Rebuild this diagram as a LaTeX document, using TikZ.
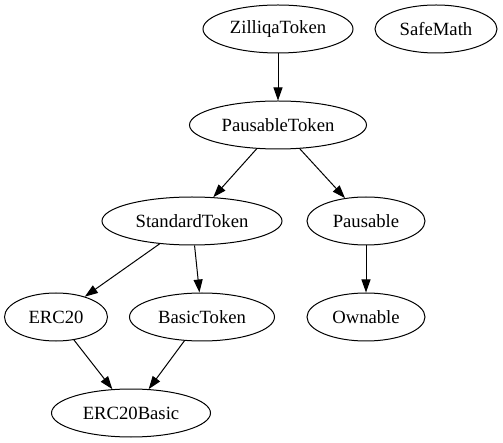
\documentclass[tikz,border=0pt]{standalone}
\usepackage{fontspec}
\setmainfont{Liberation Serif}
\usetikzlibrary{shapes.geometric,arrows.meta}

\begin{document}
\begin{tikzpicture}[x=1pt,y=1pt,line width=1pt,>={Triangle[length=13pt,width=9pt]},cls/.style={draw,ellipse,inner sep=0pt,minimum height=48pt,font=\fontsize{18.67}{22}\selectfont}]
\useasboundingbox (0,0) rectangle (503,-443);
\foreach \n/\x/\y/\w/\lbl in {zil/278/29/150/ZilliqaToken,safe/436/29/122/SafeMath,ptok/278/125/177/PausableToken,std/192/221/180/StandardToken,paus/366/221/118/Pausable,erc/56/317/103/ERC20,basic/202/317/145/BasicToken,own/366/317/118/Ownable,ercb/131/413/159/ERC20Basic}{\node[cls,minimum width=\w pt] (\n) at (\x,-\y) {\lbl};};
\draw[->] (zil) -- (ptok);
\draw[->] (ptok) -- (std);
\draw[->] (ptok) -- (paus);
\draw[->] (std) -- (erc);
\draw[->] (std) -- (basic);
\draw[->] (paus) -- (own);
\draw[->] (erc) -- (ercb);
\draw[->] (basic) -- (ercb);
\end{tikzpicture}
\end{document}
